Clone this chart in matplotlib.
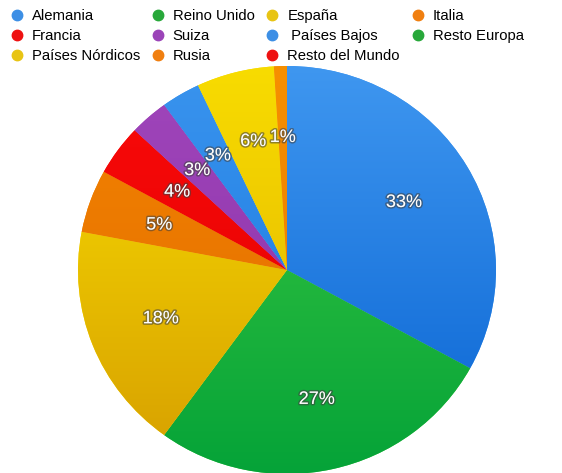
import numpy as np
import matplotlib
matplotlib.use('Agg')
import matplotlib.pyplot as plt
import matplotlib.patheffects as pe
from matplotlib.colors import LinearSegmentedColormap
from matplotlib.lines import Line2D

plt.rcParams['font.family'] = ['Liberation Sans', 'DejaVu Sans']

# share of each market, clockwise from the top
paises = ['Alemania', 'Reino Unido', 'España', 'Italia', 'Francia', 'Suiza',
          ' Países Bajos', 'Resto Europa', 'Países Nórdicos', 'Rusia', 'Resto del Mundo']
porcentajes = [33, 27, 18, 5, 4, 3, 3, 0, 6, 1, 0]

# light (top of the pie) and dark (bottom) shade of each slice
color_arriba = ['#3f97f0', '#3fca42', '#fae000', '#f48400', '#fa0a0a', '#a046bb',
                '#3a94ee', '#34b843', '#f8dc00', '#f79000', '#f01010']
color_abajo = ['#0863d2', '#05a338', '#d69e00', '#e06a00', '#e00000', '#8a30a6',
               '#1575de', '#159a30', '#e0b000', '#e37400', '#d00000']
color_leyenda = ['#3d8fe5', '#28a83a', '#e8c414', '#f07f10', '#ee1111', '#9b44b8',
                 '#3d8fe5', '#28a83a', '#e8c414', '#f07f10', '#ee1111']

W, H = 562, 473
fig = plt.figure(figsize=(W / 100, H / 100), dpi=100)

# pie axes placed in pixels: centre (287, 269), rx 209, ry 204
cx, cy, rx, ry = 287, 270, 209, 204
ax = fig.add_axes([(cx - rx) / W, (H - cy - ry) / H, 2 * rx / W, 2 * ry / H])

valores = [v for v in porcentajes if v > 0]
idx = [i for i, v in enumerate(porcentajes) if v > 0]

wedges, textos = ax.pie(valores, startangle=90, counterclock=False,
                        colors=[color_arriba[i] for i in idx],
                        wedgeprops=dict(linewidth=0))
ax.set_xlim(-1, 1)
ax.set_ylim(-1, 1)
ax.set_aspect('auto')
ax.axis('off')

# vertical gradient for every slice, clipped to the wedge
grad = np.linspace(1, 0, 256).reshape(-1, 1)
for w, i in zip(wedges, idx):
    cmap = LinearSegmentedColormap.from_list('g%d' % i, [color_abajo[i], color_arriba[i]])
    im = ax.imshow(grad, cmap=cmap, extent=(-1, 1, -1, 1), aspect='auto',
                   vmin=0, vmax=1, zorder=w.get_zorder() + 0.1)
    im.set_clip_path(w)

# percentage labels
total = sum(valores)
ang = 90.0
efecto = [pe.withStroke(linewidth=2.2, foreground=(0.25, 0.25, 0.25, 0.55))]
for v in valores:
    mid = np.deg2rad(ang - 360.0 * v / total / 2)
    ang -= 360.0 * v / total
    ax.text(0.65 * np.cos(mid), 0.65 * np.sin(mid), '%d%%' % v,
            ha='center', va='center', color='white', fontsize=13,
            path_effects=efecto, zorder=10)

# legend reads row by row, matplotlib fills column by column
handles = [Line2D([], [], marker='o', linestyle='', markersize=7.5,
                  markerfacecolor=c, markeredgecolor=c) for c in color_leyenda]
ncol = 4
orden = [i for c in range(ncol) for i in range(c, len(paises), ncol)]
fig.legend([handles[i] for i in orden], [paises[i] for i in orden],
           loc='upper left', bbox_to_anchor=(11 / W, 1 - 9 / H),
           ncol=ncol, frameon=False, fontsize=10.7, borderpad=0, borderaxespad=0,
           handlelength=0.8, handletextpad=0.6, columnspacing=0.8,
           labelspacing=0.4)

fig.savefig('out.png', dpi=100)
